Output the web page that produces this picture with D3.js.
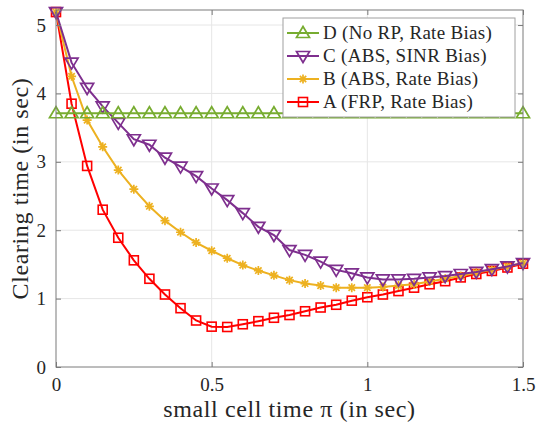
<!DOCTYPE html>
<html lang="en">
<head>
<meta charset="UTF-8">
<title>Clearing time</title>
<script src="https://d3js.org/d3.v7.min.js"></script>
<style>
  body { margin: 0; background: #fff; }
</style>
</head>
<body>
<svg id="chart" width="537" height="425"></svg>
<script>
// small cell time (sec)
const piValues = [0, 0.05, 0.1, 0.15, 0.2, 0.25, 0.3, 0.35, 0.4, 0.45,
                  0.5, 0.55, 0.6, 0.65, 0.7, 0.75, 0.8, 0.85, 0.9, 0.95,
                  1.0, 1.05, 1.1, 1.15, 1.2, 1.25, 1.3, 1.35, 1.4, 1.45, 1.5];

const seriesA = [5.19, 3.85, 2.94, 2.30, 1.89, 1.56, 1.29, 1.06, 0.86, 0.68,
                 0.59, 0.585, 0.625, 0.67, 0.72, 0.76, 0.815, 0.87, 0.91, 0.97,
                 1.02, 1.06, 1.11, 1.16, 1.21, 1.255, 1.31, 1.36, 1.405, 1.455, 1.51];
const seriesB = [5.19, 4.25, 3.61, 3.22, 2.88, 2.60, 2.35, 2.14, 1.97, 1.82,
                 1.70, 1.59, 1.49, 1.41, 1.34, 1.27, 1.22, 1.19, 1.16, 1.16,
                 1.16, 1.17, 1.19, 1.21, 1.25, 1.29, 1.33, 1.38, 1.42, 1.47, 1.52];
const seriesC = [5.19, 4.45, 4.08, 3.81, 3.57, 3.33, 3.25, 3.06, 2.93, 2.79,
                 2.61, 2.44, 2.25, 2.05, 1.93, 1.71, 1.64, 1.54, 1.42, 1.37,
                 1.31, 1.28, 1.28, 1.29, 1.31, 1.33, 1.36, 1.39, 1.43, 1.47, 1.52];
const seriesD = [3.71, 3.71, 3.71, 3.71, 3.71, 3.71, 3.71, 3.71, 3.71, 3.71,
                 3.71, 3.71, 3.71, 3.71, 3.71, 3.71, 3.71, 3.71, 3.71, 3.71,
                 3.71, 3.71, 3.71, 3.71, 3.71, 3.71, 3.71, 3.71, 3.71, 3.71, 3.71];

const seriesNames = ["A (FRP, Rate Bias)", "B (ABS, Rate Bias)", "C (ABS, SINR Bias)", "D (No RP, Rate Bias)"];
const seriesColors = ["#ff0000", "#edb120", "#7e2f8e", "#77ac30"];
const seriesMarkers = ["square", "star", "triDown", "triUp"];

const xTicks = [0, 0.5, 1, 1.5];
const yTicks = [0, 1, 2, 3, 4, 5];

const FONT = "'Times New Roman', serif";
const width = 537, height = 425;
const margin = { top: 10, right: 14, bottom: 58, left: 56 };

const svg = d3.select("#chart");

const x = d3.scaleLinear().domain([0, 1.5]).range([margin.left, width - margin.right]);
const y = d3.scaleLinear().domain([0, 5.22]).range([height - margin.bottom, margin.top]);

const x0 = x.range()[0], x1 = x.range()[1];
const y0 = y.range()[0], y1 = y.range()[1];

// grid
svg.append("g").selectAll("line").data(xTicks.slice(1, -1)).enter().append("line")
  .attr("x1", d => x(d)).attr("x2", d => x(d)).attr("y1", y0).attr("y2", y1)
  .attr("stroke", "#e6e6e6").attr("stroke-width", 1);
svg.append("g").selectAll("line").data(yTicks.slice(1)).enter().append("line")
  .attr("x1", x0).attr("x2", x1).attr("y1", d => y(d)).attr("y2", d => y(d))
  .attr("stroke", "#e6e6e6").attr("stroke-width", 1);

// marker shapes
function drawMarker(g, type, color) {
  if (type === "square") {
    g.append("rect").attr("x", -4.5).attr("y", -4.5).attr("width", 9).attr("height", 9)
      .attr("fill", "none").attr("stroke", color).attr("stroke-width", 1.6);
  } else if (type === "star") {
    g.append("path").attr("d", "M-4.5,0H4.5M0,-4.5V4.5M-3.2,-3.2L3.2,3.2M-3.2,3.2L3.2,-3.2")
      .attr("stroke", color).attr("stroke-width", 1.7).attr("fill", "none");
  } else if (type === "triDown") {
    g.append("path").attr("d", "M-6.5,-4.5L6.5,-4.5L0,6.5Z")
      .attr("fill", "none").attr("stroke", color).attr("stroke-width", 1.7);
  } else {
    g.append("path").attr("d", "M-6.5,4.5L6.5,4.5L0,-6.5Z")
      .attr("fill", "none").attr("stroke", color).attr("stroke-width", 1.7);
  }
}

const allSeries = [seriesA, seriesB, seriesC, seriesD];
const line = d3.line().x((d, i) => x(piValues[i])).y(d => y(d));

const plot = svg.append("g");
allSeries.forEach((vals, k) => {
  const g = plot.append("g");
  g.append("path").datum(vals)
    .attr("d", line)
    .attr("fill", "none")
    .attr("stroke", seriesColors[k])
    .attr("stroke-width", 2);
  g.selectAll("g.mk").data(vals).enter().append("g")
    .attr("class", "mk")
    .attr("transform", (d, i) => `translate(${x(piValues[i])},${y(d)})`)
    .each(function () { drawMarker(d3.select(this), seriesMarkers[k], seriesColors[k]); });
});

// axes (box with inward ticks)
const axisColor = "#7a7a7a";
const tickLen = 5;
const xAxis = d3.axisBottom(x).tickValues(xTicks).tickSize(-tickLen).tickPadding(11)
  .tickFormat(d3.format(""));
const gx = svg.append("g").attr("transform", `translate(0,${y0})`).call(xAxis);
gx.select(".domain").remove();
gx.selectAll("line").attr("stroke", axisColor);
gx.selectAll("text").attr("font-size", 19).attr("fill", "#262626");

const gxTop = svg.append("g").attr("transform", `translate(0,${y1})`)
  .call(d3.axisTop(x).tickValues(xTicks).tickSize(-tickLen).tickFormat(""));
gxTop.select(".domain").remove();
gxTop.selectAll("line").attr("stroke", axisColor);

const yAxis = d3.axisLeft(y).tickValues(yTicks).tickSize(-tickLen).tickPadding(10)
  .tickFormat(d3.format(""));
const gy = svg.append("g").attr("transform", `translate(${x0},0)`).call(yAxis);
gy.select(".domain").remove();
gy.selectAll("line").attr("stroke", axisColor);
gy.selectAll("text").attr("font-size", 19).attr("fill", "#262626");

const gyRight = svg.append("g").attr("transform", `translate(${x1},0)`)
  .call(d3.axisRight(y).tickValues(yTicks).tickSize(-tickLen).tickFormat(""));
gyRight.select(".domain").remove();
gyRight.selectAll("line").attr("stroke", axisColor);

svg.append("rect")
  .attr("x", x0).attr("y", y1).attr("width", x1 - x0).attr("height", y0 - y1)
  .attr("fill", "none").attr("stroke", axisColor).attr("stroke-width", 1);

// axis labels
svg.append("text")
  .attr("x", (x0 + x1) / 2).attr("y", 417)
  .attr("text-anchor", "middle").attr("font-size", 24)
  .attr("letter-spacing", 0.6).attr("fill", "#262626")
  .text("small cell time \u03C0 (in sec)");

svg.append("text")
  .attr("transform", `translate(28,${(y0 + y1) / 2}) rotate(-90)`)
  .attr("text-anchor", "middle").attr("font-size", 24)
  .attr("letter-spacing", 0.6).attr("fill", "#262626")
  .text("Clearing time (in sec)");

// legend (reverse order: D, C, B, A)
const legend = svg.append("g");
legend.append("rect")
  .attr("x", 283).attr("y", 18).attr("width", 232).attr("height", 99)
  .attr("fill", "#fff").attr("stroke", "#a0a0a0").attr("stroke-width", 1);

[3, 2, 1, 0].forEach((k, row) => {
  const ly = 33 + row * 23;
  legend.append("line")
    .attr("x1", 287).attr("x2", 319).attr("y1", ly).attr("y2", ly)
    .attr("stroke", seriesColors[k]).attr("stroke-width", 2);
  const mg = legend.append("g").attr("transform", `translate(303,${ly})`);
  drawMarker(mg, seriesMarkers[k], seriesColors[k]);
  legend.append("text")
    .attr("x", 323).attr("y", ly + 6)
    .attr("font-size", 19).attr("letter-spacing", 0.3).attr("fill", "#262626")
    .text(seriesNames[k]);
});

// serif everywhere
svg.selectAll("text").style("font-family", FONT);
</script>
</body>
</html>
